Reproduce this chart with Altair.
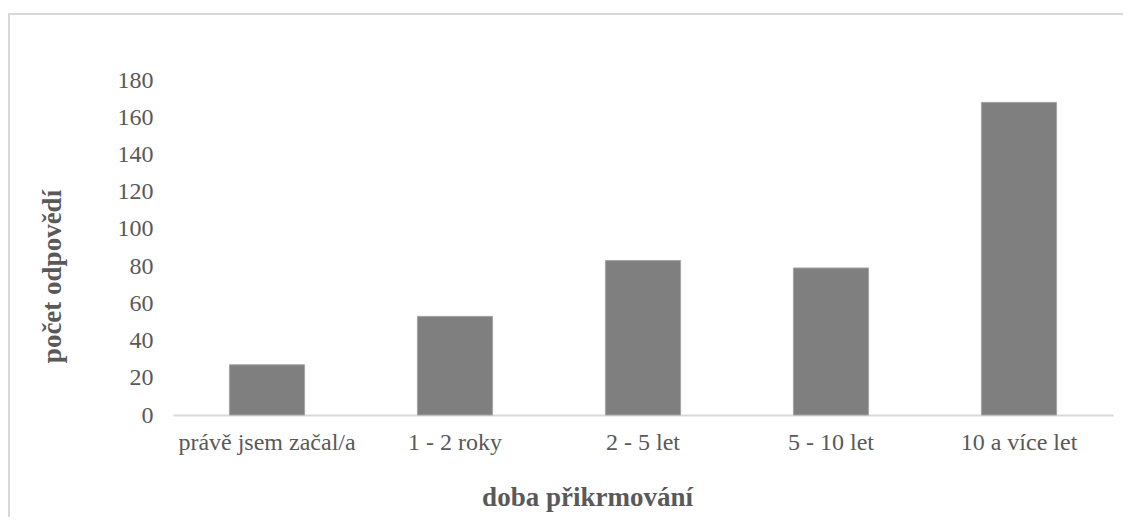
import altair as alt
import pandas as pd

categories = ["právě jsem začal/a", "1 - 2 roky", "2 - 5 let", "5 - 10 let", "10 a více let"]
values = [27, 53, 83, 79, 168]
y_ticks = [0, 20, 40, 60, 80, 100, 120, 140, 160, 180]

df = pd.DataFrame({"doba": categories, "pocet": values})

FONT = "Liberation Serif, Times New Roman, serif"
TXT = "#595959"

bars = alt.Chart(df).mark_bar(color="#7f7f7f", stroke="#a6a6a6", strokeWidth=1).encode(
    x=alt.X("doba:N", sort=categories,
            scale=alt.Scale(paddingInner=0.6, paddingOuter=0.3),
            axis=alt.Axis(title="doba přikrmování", labelAngle=0, ticks=False,
                          domain=True, domainColor="#d9d9d9", domainWidth=2,
                          labelPadding=15, labelFontSize=24, labelFont=FONT, labelColor=TXT,
                          titleFont=FONT, titleFontSize=27, titleFontWeight="bold", titleColor=TXT,
                          titleX=414, titleY=82, titleAlign="center", titleBaseline="middle")),
    y=alt.Y("pocet:Q", scale=alt.Scale(domain=[0, 180], nice=False),
            axis=alt.Axis(title="počet odpovědí", values=y_ticks, grid=False, ticks=False,
                          domain=False, labelPadding=20, labelFontSize=24, labelFont=FONT,
                          labelColor=TXT, titleFont=FONT, titleFontSize=27,
                          titleFontWeight="bold", titleColor=TXT,
                          titleX=-121, titleY=196, titleAlign="center", titleBaseline="middle",
                          titleAngle=270)),
)

frame = alt.Chart(pd.DataFrame({"a": [0]})).mark_rect(
    filled=False, stroke="#d9d9d9", strokeWidth=2
).encode(
    x=alt.value(-164), x2=alt.value(990), y=alt.value(-66), y2=alt.value(480)
)

chart = alt.layer(frame, bars).properties(
    width=940, height=335,
    background="white",
    autosize=alt.AutoSizeParams(type="none"),
    padding={"left": 165, "top": 72, "right": 10, "bottom": 102},
).configure_view(strokeWidth=0, stroke="transparent")

chart.save("out.html", embed_options={"renderer": "svg", "actions": False})
